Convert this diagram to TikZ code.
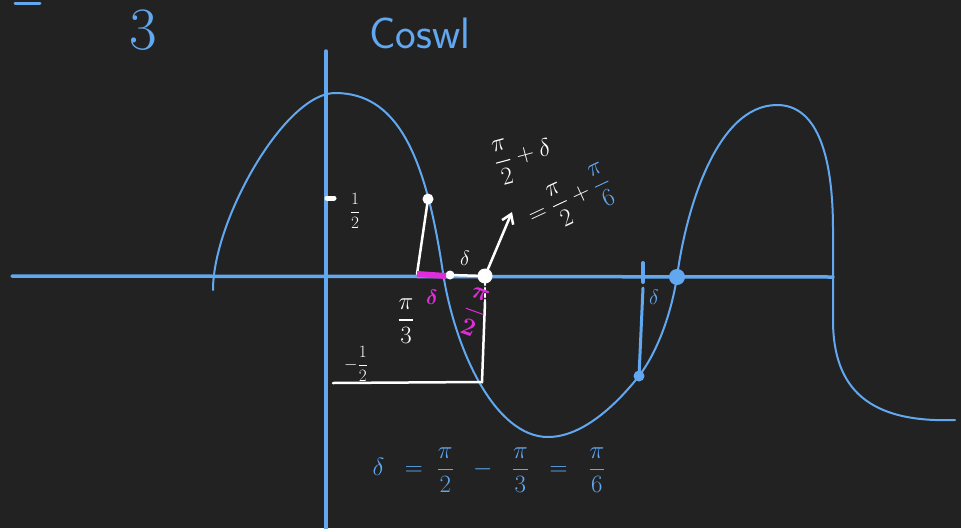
\documentclass[tikz,border=0pt]{standalone}
\usepackage{amsmath,amssymb}
\usepackage{tikz}
\usetikzlibrary{positioning,arrows.meta}
\definecolor{board}{HTML}{222222}
\definecolor{chalkblue}{HTML}{62A8F0}
\definecolor{chalkpink}{HTML}{E02CDA}

\begin{document}
\begin{tikzpicture}[x=1pt,y=-1pt,
every node/.style={inner sep=1pt,font=\fontsize{20}{24}\selectfont},
axis/.style={chalkblue,line width=3.5pt,line cap=round},
wave/.style={chalkblue,line width=2pt,line cap=round},
chalk/.style={white,line width=2.5pt,line cap=round},
wdot/.style={circle,fill=white,inner sep=0pt,minimum size=#1},
bdot/.style={circle,fill=chalkblue,inner sep=0pt,minimum size=#1}]
\fill[board] (0,0) rectangle (961,528);
\useasboundingbox (0,0) rectangle (961,528);
% axes
\coordinate (xl) at (12,276);
\coordinate (xr) at (833,277);
\coordinate (yt) at (326,51);
\coordinate (yb) at (326,530);
\draw[axis] (xl) -- (xr);
\draw[axis] (yt) -- (yb);
% points on the wave
\node[bdot=16pt] (Z) at (677,277) {};
\node[bdot=11pt] (F) at (639,376) {};
% the wave
\draw[wave] (213,290) .. controls (213,220) and (285,93) .. (335,93)
  .. controls (395,93) and (425,150) .. (443,273)
  .. controls (455,350) and (495,437) .. (548,437)
  .. controls (585,437) and (620,400) .. (F.center)
  .. controls (655,355) and (670,320) .. (Z.center)
  .. controls (685,215) and (715,105) .. (777,105)
  .. controls (815,105) and (833,150) .. (833,230)
  -- (833,320) .. controls (833,390) and (870,423) .. (955,420);
% cut-off text at the top
\draw[chalkblue,line width=3pt,line cap=round] (15,3) -- (40,3);
\node[chalkblue,font=\fontsize{60}{62}\selectfont] (three) at (143,30) {3};
\node[chalkblue,font=\sffamily\fontsize{44}{48}\selectfont] (title) at (420,33) {Coswl};
% white construction
\node[wdot=11pt] (P) at (428,199) {};
\coordinate (A) at (417,274);
\coordinate (B) at (446,276);
\node[wdot=9pt] (C) at (450,275) {};
\node[wdot=15pt] (D) at (485,276) {};
\coordinate (T) at (512,212);
\coordinate (E) at (485,302);
\coordinate (Q) at (482,382);
\coordinate (R) at (333,383);
\draw[chalk] (P.center) -- (A);
\draw[chalkpink,line width=6pt] (A) -- (B);
\draw[chalk] (C.center) -- (D.center);
\draw[chalk,-{Straight Barb[length=9pt,width=12pt]}] (D.center) -- (T);
\draw[chalk,dashed] (D.center) -- (E);
\draw[chalk] (E) -- (Q) -- (R);
% ticks and labels, white
\draw[chalk,line width=5pt] (327,198) -- (334,198);
\node[white,font=\fontsize{18}{20}\selectfont] (half) at (355,211) {$\dfrac{1}{2}$};
\node[white,font=\fontsize{28}{30}\selectfont] (third) at (406,321) {$\dfrac{\pi}{3}$};
\node[white,font=\fontsize{18}{20}\selectfont] (mhalf) at (356,364) {$-\dfrac{1}{2}$};
\node[white] (d1) at (465,258) {$\delta$};
\node[white,rotate=15,font=\fontsize{27}{30}\selectfont] (sum) at (523,157)
  {$\dfrac{\pi}{2}+\delta$};
\node[white,rotate=25,font=\fontsize{23}{26}\selectfont] (eq) at (570,200)
  {$=\dfrac{\pi}{2}+\textcolor{chalkblue}{\dfrac{\pi}{6}}$};
% pink labels
\node[chalkpink] (d2) at (432,297) {$\boldsymbol{\delta}$};
\node[chalkpink,rotate=-20,font=\fontsize{25}{28}\selectfont] (halfpi) at (474,312)
  {$\boldsymbol{\dfrac{\pi}{2}}$};
% blue delta on the right
\coordinate (tk1) at (643,263);
\coordinate (tk2) at (643,282);
\coordinate (tk3) at (643,288);
\draw[chalkblue,line width=4pt,line cap=round] (tk1) -- (tk2);
\draw[chalkblue,line width=3pt,line cap=round] (tk3) -- (F.center);
\node[chalkblue] (d3) at (654,297) {$\delta$};
% the result
\node[chalkblue,font=\fontsize{26}{30}\selectfont] (res) at (489,470)
  {$\delta\;\;=\;\dfrac{\pi}{2}\;\;-\;\;\dfrac{\pi}{3}\;\;=\;\;\dfrac{\pi}{6}$};
\end{tikzpicture}
\end{document}
